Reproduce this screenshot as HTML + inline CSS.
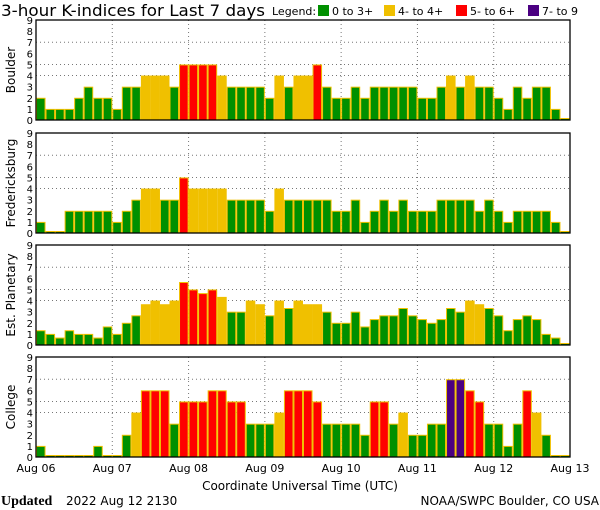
<!DOCTYPE html>
<html><head><meta charset="utf-8"><style>
html,body{margin:0;padding:0;background:#fff;width:600px;height:510px;overflow:hidden}
svg{display:block}
text{font-family:"DejaVu Sans","Liberation Sans",sans-serif;fill:#000}
text.upd{font-family:"Liberation Serif",serif;font-weight:bold;font-size:14px}
</style></head><body>
<svg id="s" width="600" height="510" xmlns="http://www.w3.org/2000/svg"></svg>
<script>
const data=[
["Boulder",[2,1,1,1,2,3,2,2, 1,3,3,4,4,4,3,5, 5,5,5,4,3,3,3,3, 2,4,3,4,4,5,3,2, 2,3,2,3,3,3,3,3, 2,2,3,4,3,4,3,3, 2,1,3,2,3,3,1,0]],
["Fredericksburg",[1,0,0,2,2,2,2,2, 1,2,3,4,4,3,3,5, 4,4,4,4,3,3,3,3, 2,4,3,3,3,3,3,2, 2,3,1,2,3,2,3,2, 2,2,3,3,3,3,2,3, 2,1,2,2,2,2,1,0]],
["Est. Planetary",[1.33,1,0.67,1.33,1,1,0.67,1.67, 1,2,2.67,3.67,4,3.67,4,5.67, 5,4.67,5,4.33,3,3,4,3.67, 2.67,4,3.33,4,3.67,3.67,3,2, 2,3,1.67,2.33,2.67,2.67,3.33,2.67, 2.33,2,2.33,3.33,3,4,3.67,3.33, 2.67,1.33,2.33,2.67,2.33,1,0.67,0]],
["College",[1,0,0,0,0,0,1,0, 0,2,4,6,6,6,3,5, 5,5,6,6,5,5,3,3, 3,4,6,6,6,5,3,3, 3,3,2,5,5,3,4,2, 2,3,3,7,7,6,5,3, 3,1,3,6,4,2,0,0]]
];
const tops=[20,133,245,357],X0=36,X1=570,H=100,u=H/9,bw=(X1-X0)/56,dw=(X1-X0)/7;
let h='';
h+='<text x="1" y="16" font-size="16" textLength="264" lengthAdjust="spacingAndGlyphs">3-hour K-indices for Last 7 days</text>';
h+='<text x="272" y="15" font-size="11">Legend:</text>';
const leg=[["#009000","0 to 3+",318],["#f0c000","4- to 4+",384],["#ff0000","5- to 6+",456],["#4b0082","7- to 9",528]];
leg.forEach(l=>{h+=`<rect x="${l[2]}" y="5" width="11" height="11" fill="${l[0]}"/><text x="${l[2]+14}" y="15" font-size="11">${l[1]}</text>`});
function col(v){if(v>=6.67)return"#4b0082";if(v>=4.67)return"#ff0000";if(v>=3.67)return"#f0c000";return"#009000";}
data.forEach((p,i)=>{
 const t=tops[i],b=t+H;
 [4,5,7].forEach(k=>{const y=b-k*u;h+=`<line x1="${X0}" x2="${X1}" y1="${y}" y2="${y}" stroke="#777" stroke-dasharray="1,3"/>`});
 for(let d=1;d<7;d++){const x=X0+d*dw;h+=`<line x1="${x}" x2="${x}" y1="${t}" y2="${b}" stroke="#777" stroke-dasharray="1,3"/>`}
 p[1].forEach((v,j)=>{
  const x=X0+j*bw;let hh=v*u;if(hh<2)hh=2;
  h+=`<rect x="${x+0.5}" y="${b-hh+0.5}" width="${bw-1}" height="${hh-0.5}" fill="${col(v)}" stroke="#f0c000" stroke-width="1"/>`;
 });
 h+=`<rect x="${X0}" y="${t}" width="${X1-X0}" height="${H}" fill="none" stroke="#000" stroke-width="1.3"/>`;
 for(let k=0;k<=9;k++){h+=`<text x="33" y="${b-k*u+4}" font-size="10" text-anchor="end">${k}</text>`}
 const cy=t+H/2;
 h+=`<text transform="translate(15,${cy}) rotate(-90)" font-size="12" text-anchor="middle">${p[0]}</text>`;
});
const days=["Aug 06","Aug 07","Aug 08","Aug 09","Aug 10","Aug 11","Aug 12","Aug 13"];
days.forEach((d,k)=>{h+=`<text x="${X0+k*dw}" y="472" font-size="11" text-anchor="middle">${d}</text>`});
h+='<text x="300" y="490" font-size="12" text-anchor="middle">Coordinate Universal Time (UTC)</text>';
h+='<text class="upd" x="1" y="505" font-weight="bold">Updated</text><text x="66" y="505" font-size="12">2022 Aug 12 2130</text>';
h+='<text x="599" y="505" font-size="12" text-anchor="end">NOAA/SWPC Boulder, CO USA</text>';
document.getElementById('s').innerHTML=h;
</script>
</body></html>
